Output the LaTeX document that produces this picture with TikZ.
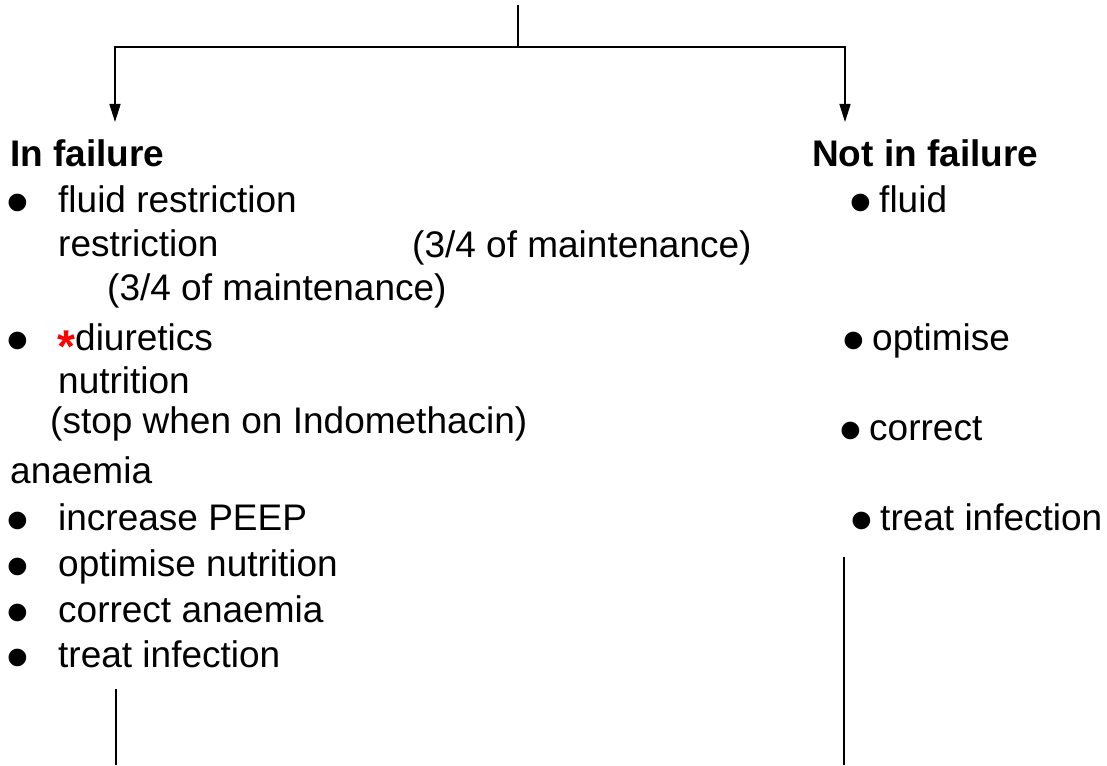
\documentclass[tikz,border=0pt]{standalone}
\usepackage{xcolor}
\usepackage{fontspec}
\setmainfont{Liberation Sans}
\usetikzlibrary{arrows.meta,positioning,calc}

\newcommand{\bul}{\smash{\raisebox{-12pt}{\fontsize{65}{65}\selectfont •}}}
\newcommand{\rbul}{\makebox[30pt][l]{\bul}}
\newcommand{\redstar}{\makebox[18pt][l]{\color{red}\bfseries\smash{\raisebox{-12pt}{\fontsize{46}{46}\selectfont *}}}}

\begin{document}
\begin{tikzpicture}[x=1pt,y=-1pt,
  every node/.style={inner sep=0pt,anchor=base west,font=\fontsize{37}{44}\selectfont},
  heading/.style={font=\fontsize{37}{44}\selectfont\bfseries},
  flowline/.style={line width=1.5pt},
  flowarrow/.style={flowline,-{Triangle[length=18pt,width=11pt]}}]
\useasboundingbox (0,0) rectangle (1107,765);

% Branch points
\coordinate (top) at (518,5);
\coordinate (split) at (518,47);
\coordinate (ltip) at (115,122);
\coordinate (rtip) at (845,122);

% In failure
\node[heading] (fail) at (10,166) {In failure};
\node (b1) at (6,212) {\bul};
\node (fluidres) at (58,212) {fluid restriction};
\node (restr) at (58,256) {restriction};
\node (maint1) at (412,257) {(3/4 of maintenance)};
\node (maint2) at (107,300) {(3/4 of maintenance)};
\node (b2) at (6,350) {\bul};
\node (diur) at (57,350) {\redstar diuretics};
\node (nutr) at (58,393) {nutrition};
\node (stop) at (50,433) {(stop when on Indomethacin)};
\node (anaem) at (10,483) {anaemia};
\node (b3) at (6,530) {\bul};
\node (peep) at (58,530) {increase PEEP};
\node (b4) at (6,576) {\bul};
\node (optnut) at (58,576) {optimise nutrition};
\node (b5) at (6,622) {\bul};
\node (coran) at (58,622) {correct anaemia};
\node (b6) at (6,667) {\bul};
\node (treat) at (58,667) {treat infection};

% Not in failure
\node[heading] (nofail) at (812,166) {Not in failure};
\node (rfluid) at (849,212) {\rbul fluid};
\node (ropt) at (842,350) {\rbul optimise};
\node (rcorr) at (839,440) {\rbul correct};
\node (rtreat) at (850,530) {\rbul treat infection};

% Stems below
\coordinate (lstem) at (116,689);
\coordinate (lfoot) at (116,765);
\coordinate (rstem) at (844,557);
\coordinate (rfoot) at (844,765);

% Connectors
\draw[flowline] (top) -- (split);
\draw[flowarrow] (split) -| (ltip);
\draw[flowarrow] (split) -| (rtip);
\draw[flowline] (lstem) -- (lfoot);
\draw[flowline] (rstem) -- (rfoot);

\end{tikzpicture}
\end{document}
